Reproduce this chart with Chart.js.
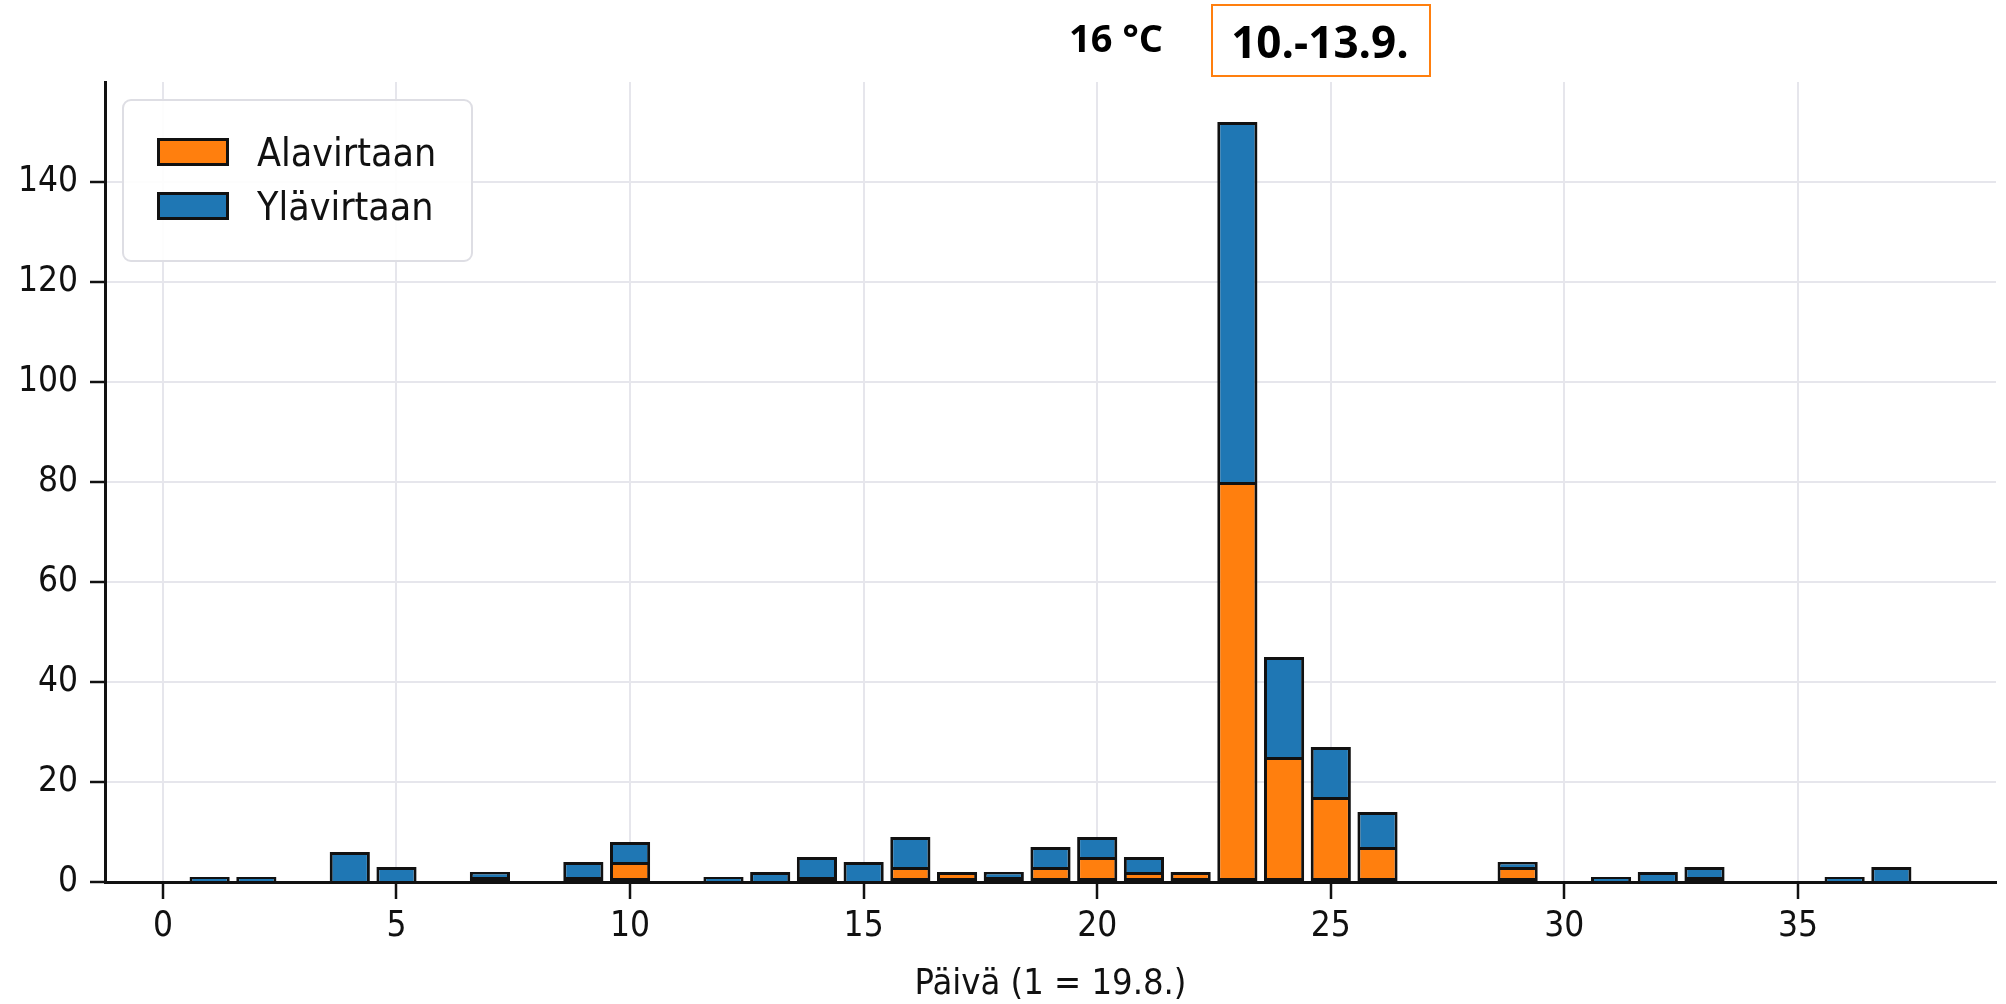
<!DOCTYPE html>
<html><head><meta charset="utf-8">
<script src="https://cdn.jsdelivr.net/npm/chart.js@4.4.0/dist/chart.umd.min.js"></script>
<style>html,body{margin:0;padding:0;background:#fff}canvas{display:block}</style>
</head><body>
<canvas id="c" width="2006" height="1004" style="width:2006px;height:1004px"></canvas>
<script>
const days = [1,2,4,5,7,9,10,12,13,14,15,16,17,18,19,20,21,22,23,24,25,26,29,31,32,33,36,37];
const alavirtaan = [0,0,0,0,1,1,4,0,0,1,0,3,2,1,3,5,2,2,80,25,17,7,3,0,0,1,0,0];
const ylavirtaan = [1,1,6,3,1,3,4,1,2,4,4,6,0,1,4,4,3,0,72,20,10,7,1,1,2,2,1,3];
const seriesLabels = ['Alavirtaan', 'Ylävirtaan'];
const xTicks = [0,5,10,15,20,25,30,35];
const yTicks = [0,20,40,60,80,100,120,140];
const xTitle = 'Päivä (1 = 19.8.)';
const tempLabel = '16 °C';
const dateLabel = '10.-13.9.';

const FAM = "'DejaVu Sans Condensed', 'DejaVu Sans', sans-serif";
const ORANGE = '#ff7f0e', BLUE = '#1f77b4', EDGE = '#111111', TXT = '#111111';

const overlay = {
  id: 'overlay',
  afterDraw(chart) {
    const ctx = chart.ctx;
    ctx.save();
    ctx.beginPath();
    ctx.roundRect(123, 100, 349, 161, 8);
    ctx.fillStyle = 'rgba(255,255,255,0.9)';
    ctx.fill();
    ctx.lineWidth = 2;
    ctx.strokeStyle = '#dedee4';
    ctx.stroke();
    const ds = chart.data.datasets;
    const rows = [{y: 138, base: 166}, {y: 192, base: 220}];
    ds.forEach((d, i) => {
      ctx.fillStyle = d.backgroundColor;
      ctx.fillRect(157, rows[i].y, 72, 28);
      ctx.lineWidth = 3;
      ctx.strokeStyle = EDGE;
      ctx.strokeRect(158.5, rows[i].y + 1.5, 69, 25);
      ctx.fillStyle = TXT;
      ctx.font = '39px ' + FAM;
      ctx.textAlign = 'left';
      ctx.textBaseline = 'alphabetic';
      ctx.fillText(d.label, 257, rows[i].base);
    });
    ctx.fillStyle = '#000';
    ctx.textAlign = 'center';
    ctx.textBaseline = 'alphabetic';
    ctx.font = "bold 38px 'Open Sans', 'Noto Sans', sans-serif";
    ctx.fillText(tempLabel, 1116, 52);
    ctx.font = "bold 44px 'Open Sans', 'Noto Sans', sans-serif";
    ctx.fillText(dateLabel, 1320, 58);
    ctx.lineWidth = 2;
    ctx.strokeStyle = ORANGE;
    ctx.strokeRect(1212, 5, 218, 71);
    ctx.restore();
  }
};

new Chart(document.getElementById('c'), {
  type: 'bar',
  data: {
    datasets: [
      {label: seriesLabels[0], data: days.map((d, i) => ({x: d, y: alavirtaan[i]})),
       backgroundColor: ORANGE, borderColor: EDGE, borderWidth: 3, borderSkipped: false,
       barPercentage: 0.86, categoryPercentage: 1},
      {label: seriesLabels[1], data: days.map((d, i) => ({x: d, y: ylavirtaan[i]})),
       backgroundColor: BLUE, borderColor: EDGE, borderWidth: 3, borderSkipped: 'start',
       barPercentage: 0.86, categoryPercentage: 1}
    ]
  },
  options: {
    responsive: false,
    animation: false,
    layout: {padding: {left: 0, right: 10, top: 82, bottom: 0}},
    plugins: {legend: {display: false}, tooltip: {enabled: false}},
    scales: {
      x: {
        type: 'linear', min: -1.24, max: 39.24, bounds: 'data', stacked: true, offset: false,
        afterBuildTicks: s => { s.ticks = xTicks.map(v => ({value: v})); },
        afterFit: s => { s.height = 122; },
        grid: {offset: false, color: '#e6e6ec', lineWidth: 2, tickColor: EDGE, tickWidth: 2.5, tickLength: 17},
        border: {color: EDGE, width: 3},
        ticks: {color: TXT, font: {family: FAM, size: 35}, padding: 7, maxRotation: 0, autoSkip: false},
        title: {display: true, text: xTitle, color: TXT, font: {family: FAM, size: 36, lineHeight: 1.1}, padding: {top: 0, bottom: 0}}
      },
      y: {
        min: 0, max: 160, bounds: 'data', stacked: true,
        afterBuildTicks: s => { s.ticks = yTicks.map(v => ({value: v})); },
        afterFit: s => { s.width = 105; },
        grid: {color: '#e6e6ec', lineWidth: 2, tickColor: EDGE, tickWidth: 2.5, tickLength: 15},
        border: {color: EDGE, width: 3},
        ticks: {color: TXT, font: {family: FAM, size: 35}, padding: 12, autoSkip: false}
      }
    }
  },
  plugins: [overlay]
});
</script>
</body></html>
